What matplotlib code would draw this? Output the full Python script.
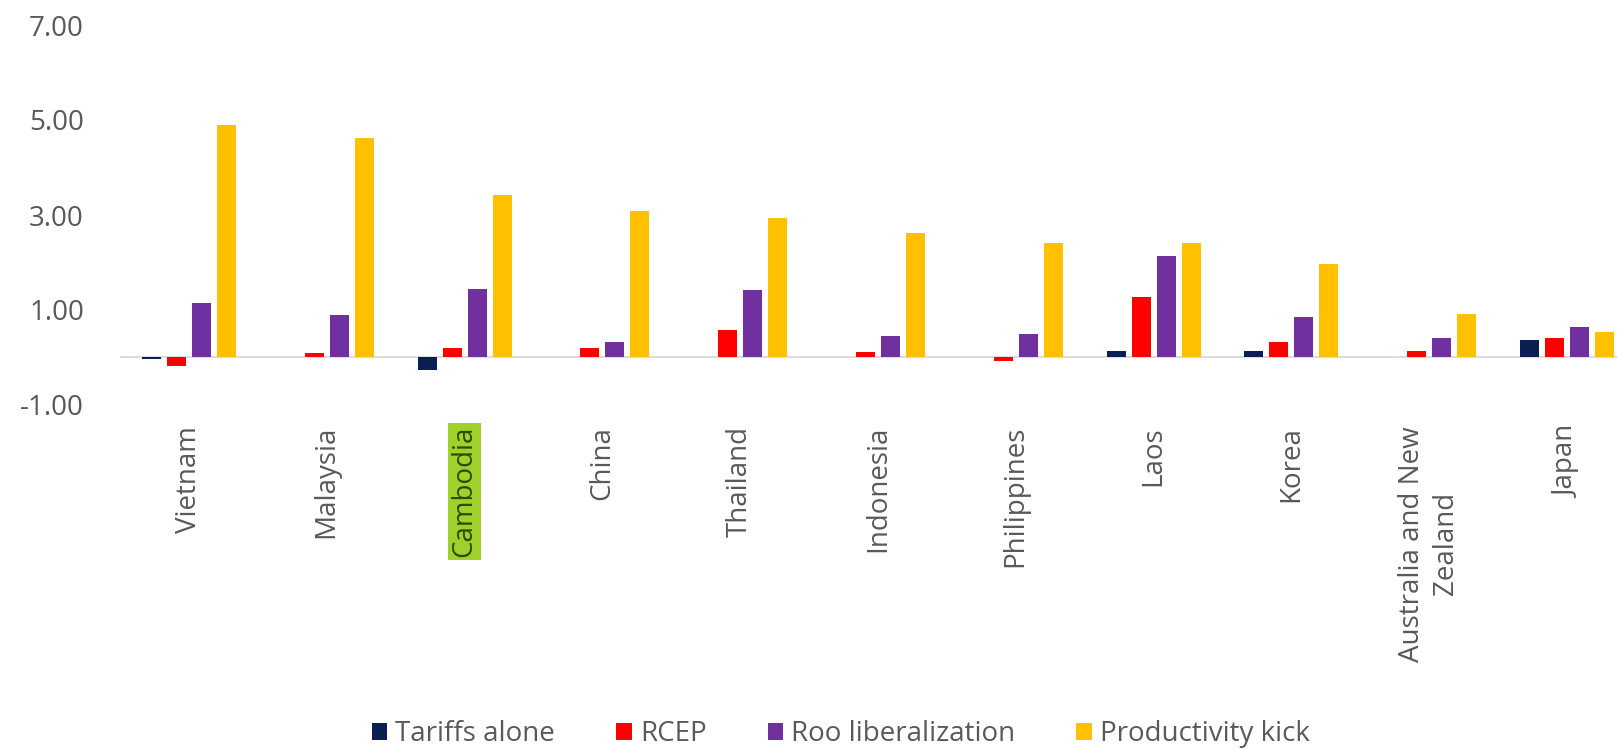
import matplotlib
matplotlib.use("Agg")
import matplotlib.pyplot as plt
import numpy as np
from matplotlib.patches import Patch

countries = ["Vietnam", "Malaysia", "Cambodia", "China", "Thailand", "Indonesia",
             "Philippines", "Laos", "Korea", "Australia and New\nZealand", "Japan"]
tariffs_alone = [-0.03, 0.00, -0.26, 0.00, 0.00, 0.00, 0.00, 0.14, 0.14, 0.00, 0.37]
rcep = [-0.18, 0.10, 0.20, 0.20, 0.58, 0.12, -0.08, 1.27, 0.32, 0.13, 0.41]
roo_liberalization = [1.14, 0.90, 1.44, 0.33, 1.43, 0.46, 0.50, 2.13, 0.86, 0.41, 0.65]
productivity_kick = [4.90, 4.62, 3.43, 3.09, 2.93, 2.62, 2.41, 2.40, 1.97, 0.92, 0.53]

series_names = ["Tariffs alone", "RCEP", "Roo liberalization", "Productivity kick"]
series_colors = ["#0c1f55", "#ff0000", "#7030a0", "#ffc000"]
yticks = [-1.00, 1.00, 3.00, 5.00, 7.00]

plt.rcParams["font.family"] = ["Open Sans", "DejaVu Sans"]
text_gray = "#595959"

W, H = 1617, 751
fig = plt.figure(figsize=(W / 100, H / 100), dpi=100)

left_px, right_px = 120, W
top_px, bottom_px = 25, 405
group_px = 137.8
ax = fig.add_axes([left_px / W, 1 - bottom_px / H, (right_px - left_px) / W,
                   (bottom_px - top_px) / H])

x = np.arange(len(countries))
step = 25 / group_px
width = 19 / group_px
all_series = [tariffs_alone, rcep, roo_liberalization, productivity_kick]
for k, (vals, col) in enumerate(zip(all_series, series_colors)):
    ax.bar(x + (k - 1.5) * step, vals, width=width, color=col, zorder=3)

ax.set_xlim(-0.5, -0.5 + (right_px - left_px) / group_px)
ax.set_ylim(-1, 7)
ax.axhline(0, color="#d9d9d9", lw=1.3, zorder=2)

for s in ax.spines.values():
    s.set_visible(False)
ax.set_yticks(yticks)
ax.set_yticklabels([f"{v:.2f}" for v in yticks], fontsize=20, color=text_gray)
ax.tick_params(axis="y", length=0, pad=26)
ax.set_xticks([])

for i, name in enumerate(countries):
    kw = dict(rotation=90, ha="center", va="top", fontsize=20, color=text_gray,
              multialignment="center", linespacing=1.25,
              transform=ax.get_xaxis_transform())
    if name == "Cambodia":
        kw["color"] = "#2f4a00"
        kw["bbox"] = dict(boxstyle="square,pad=0.1", facecolor="#9fd12a", edgecolor="none")
    ax.text(i, -0.055, name, **kw)

handles = [Patch(facecolor=c, edgecolor="none") for c in series_colors]
fig.legend(handles, series_names, loc="center", bbox_to_anchor=(0.52, 0.022),
           ncol=4, frameon=False, fontsize=20, labelcolor=text_gray,
           handlelength=0.55, handleheight=0.55, handletextpad=0.3, columnspacing=2.2)

fig.savefig("out.png", dpi=100, facecolor="white")
